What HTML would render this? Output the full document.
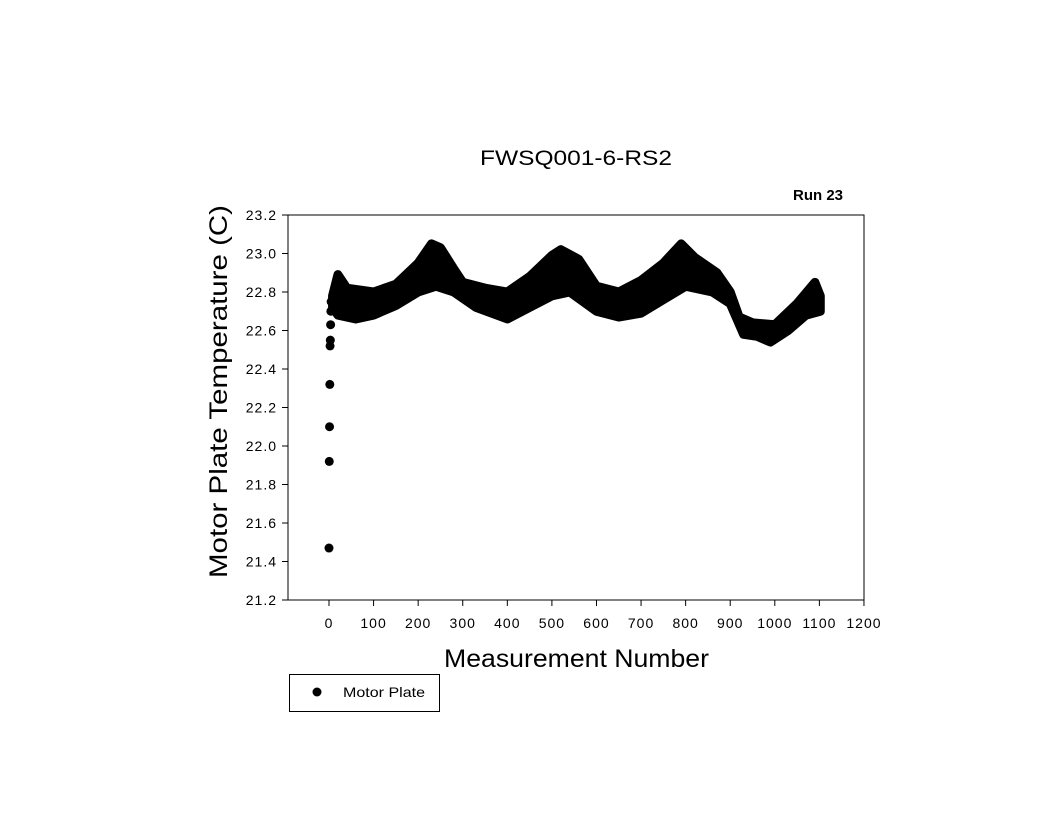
<!DOCTYPE html>
<html><head><style>body{margin:0;background:#fff}svg{display:block}text{font-family:"Liberation Sans",sans-serif;fill:#000}</style></head>
<body>
<svg id="s" width="1056" height="816" viewBox="0 0 1056 816">
<rect x="288" y="215" width="576" height="385" fill="none" stroke="#000" stroke-width="1"/>
<g id="ticks" stroke="#000" stroke-width="1"></g>
<g id="labels" font-size="14" letter-spacing="1"></g>
<g id="data"></g>
<text x="480" y="165" font-size="21" textLength="192" lengthAdjust="spacingAndGlyphs">FWSQ001-6-RS2</text>
<text x="793" y="200" font-size="15" font-weight="bold" textLength="50" lengthAdjust="spacingAndGlyphs">Run 23</text>
<text x="444" y="667" font-size="25" textLength="265" lengthAdjust="spacingAndGlyphs">Measurement Number</text>
<text transform="translate(227,578) rotate(-90)" font-size="25" textLength="373" lengthAdjust="spacingAndGlyphs">Motor Plate Temperature (C)</text>
<rect x="289.5" y="674.5" width="150" height="37" fill="none" stroke="#000"/>
<circle cx="317" cy="692" r="4.5" fill="#000"/>
<text x="343" y="697" font-size="14" textLength="82" lengthAdjust="spacingAndGlyphs">Motor Plate</text>
</svg>
<script>
var NS="http://www.w3.org/2000/svg";
function X(x){return 329+x*0.4458}function Y(t){return 600-(t-21.2)*192.5}
function el(n,a,p){var e=document.createElementNS(NS,n);for(var k in a)e.setAttribute(k,a[k]);if(p)document.getElementById(p).appendChild(e);return e}
for(var i=0;i<=10;i++){var t=21.2+i*0.2,y=Y(t);el("line",{x1:282,x2:288,y1:y,y2:y},"ticks");var tx=el("text",{x:277,y:y+5,"text-anchor":"end"},"labels");tx.textContent=t.toFixed(1);}
for(var v=0;v<=1200;v+=100){var x=X(v);el("line",{x1:x,x2:x,y1:600,y2:606},"ticks");var tx=el("text",{x:x,y:628,"text-anchor":"middle"},"labels");tx.textContent=v;}
var up=[[8,22.78],[20,22.89],[40,22.82],[100,22.80],[150,22.84],[200,22.95],[230,23.05],[250,23.03],[280,22.92],[300,22.85],[350,22.82],[400,22.80],[450,22.88],[500,22.99],[520,23.02],[560,22.97],[600,22.83],[650,22.80],[700,22.86],[750,22.95],[790,23.05],[820,22.98],[870,22.90],[900,22.80],[920,22.67],[950,22.64],[1000,22.63],[1050,22.74],[1090,22.85],[1102,22.78]];
var lo=[[1102,22.70],[1070,22.68],[1030,22.60],[990,22.54],[960,22.57],[930,22.58],[900,22.74],[860,22.80],[800,22.83],[750,22.76],[700,22.69],[650,22.67],[600,22.70],[540,22.80],[500,22.78],[450,22.72],[400,22.66],[330,22.72],[280,22.80],[240,22.83],[200,22.80],[150,22.73],[100,22.68],[60,22.66],[20,22.68],[8,22.72]];
var pts=up.concat(lo).map(function(p){return X(p[0])+","+Y(p[1])}).join(" ");
el("polygon",{points:pts,fill:"#000",stroke:"#000","stroke-width":9,"stroke-linejoin":"round"},"data");
[21.47,21.92,22.10,22.32,22.52,22.55,22.63,22.70,22.75].forEach(function(t,i){el("circle",{cx:X(i*0.6),cy:Y(t),r:4.5,fill:"#000"},"data")});
</script>
</body></html>
